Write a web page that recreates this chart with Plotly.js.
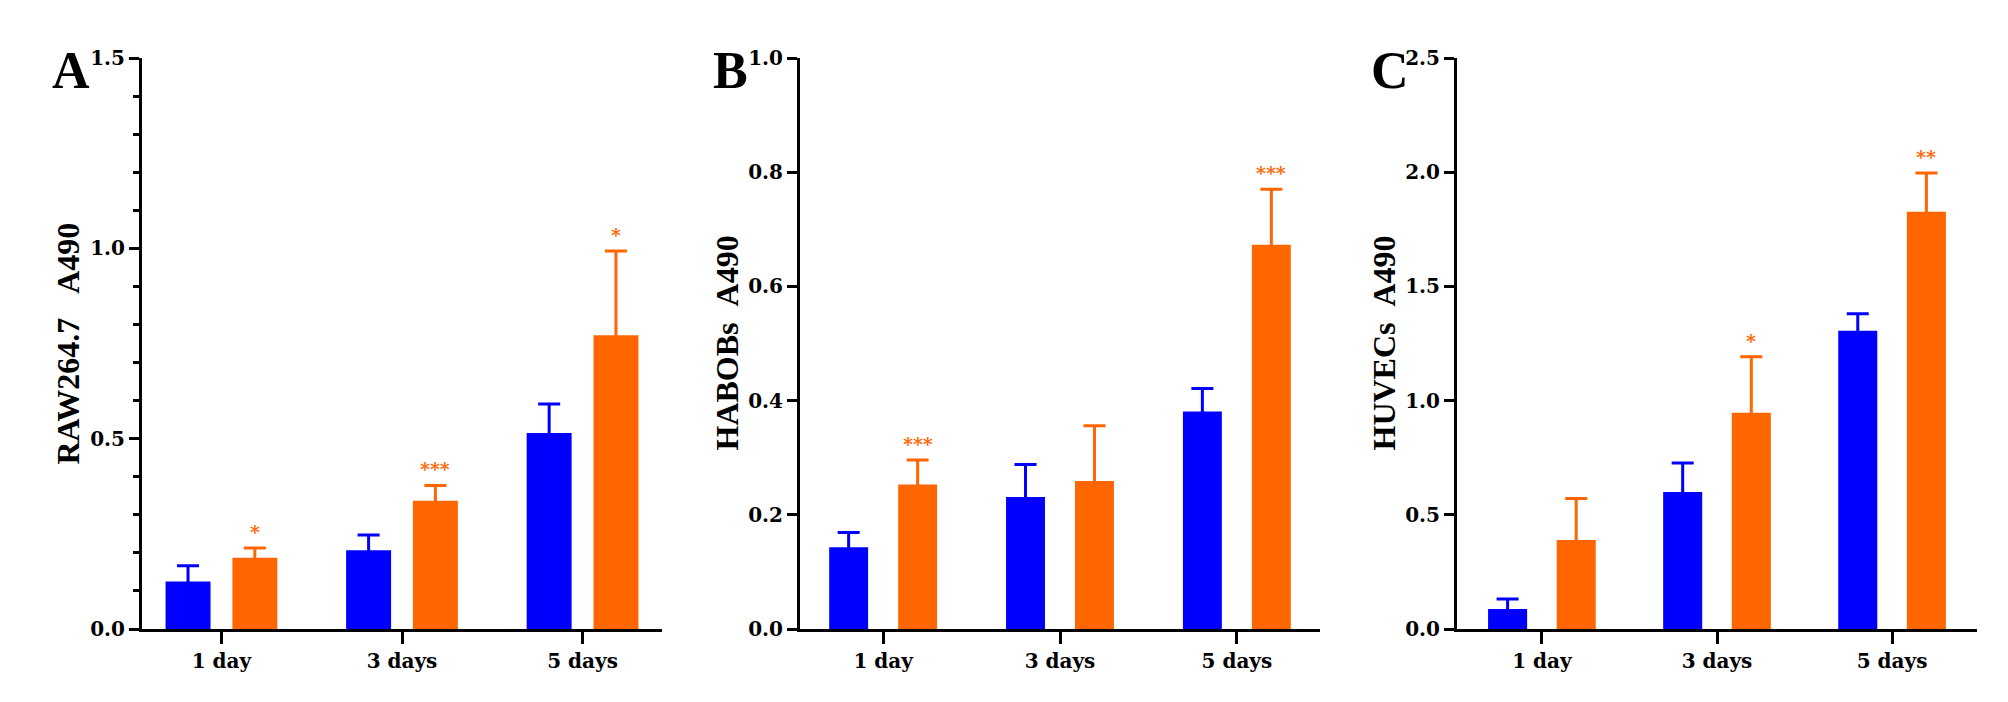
<!DOCTYPE html>
<html><head><meta charset="utf-8">
<script src="https://cdn.plot.ly/plotly-3.0.1.min.js"></script>
<style>html,body{margin:0;padding:0;background:#fff}#chart{width:2008px;height:702px}</style>
</head><body><div id="chart"></div>
<script>
// ---- data ----
const categories = ['1 day', '3 days', '5 days'];

const rawControl    = [0.125, 0.207, 0.515];
const rawControlErr = [0.041, 0.040, 0.076];
const rawTreat      = [0.187, 0.337, 0.772];
const rawTreatErr   = [0.026, 0.040, 0.221];
const rawSig        = ['*', '***', '*'];

const habControl    = [0.143, 0.231, 0.381];
const habControlErr = [0.026, 0.057, 0.040];
const habTreat      = [0.253, 0.259, 0.673];
const habTreatErr   = [0.043, 0.097, 0.097];
const habSig        = ['***', '', '***'];

const huvControl    = [0.088, 0.600, 1.306];
const huvControlErr = [0.043, 0.127, 0.074];
const huvTreat      = [0.390, 0.947, 1.827];
const huvTreatErr   = [0.181, 0.245, 0.169];
const huvSig        = ['', '*', '**'];

const yTitles = ['RAW264.7\u00a0\u00a0\u00a0A490', 'HABOBs\u00a0\u00a0A490', 'HUVECs\u00a0\u00a0A490'];
const letters = ['A', 'B', 'C'];

// ---- layout / style ----
const W = 2008, H = 702;
const BLUE = '#0000FF', ORANGE = '#FF6600';
const TICKFONT = {family: 'DejaVu Serif', size: 20, color: '#000', weight: 'bold'};
const panels = [
  {ctrl: rawControl, ctrlErr: rawControlErr, trt: rawTreat, trtErr: rawTreatErr, sig: rawSig,
   px: [142, 662], top: 58, bot: 629, pad: 0.44, yMax: 1.5, dtick: 0.5, minor: 0.1, w: 0.249, d: 0.185, titleX: 67, letterX: 71},
  {ctrl: habControl, ctrlErr: habControlErr, trt: habTreat, trtErr: habTreatErr, sig: habSig,
   px: [800, 1320], top: 58, bot: 629, pad: 0.47, yMax: 1.0, dtick: 0.2, minor: null, w: 0.22, d: 0.195, titleX: 726, letterX: 730},
  {ctrl: huvControl, ctrlErr: huvControlErr, trt: huvTreat, trtErr: huvTreatErr, sig: huvSig,
   px: [1457, 1977], top: 58, bot: 629, pad: 0.485, yMax: 2.5, dtick: 0.5, minor: null, w: 0.223, d: 0.196, titleX: 1383, letterX: 1390}
];

const idx = categories.map((c, i) => i);
const traces = [];
const layout = {
  width: W, height: H,
  margin: {l: 0, r: 0, t: 0, b: 0},
  paper_bgcolor: '#fff', plot_bgcolor: '#fff',
  showlegend: false, barmode: 'overlay',
  annotations: []
};

panels.forEach((p, k) => {
  const n = k === 0 ? '' : String(k + 1);
  const xa = 'x' + n, ya = 'y' + n;
  // error bars only upward: the lower half runs hidden inside the bar down to the axis
  traces.push({
    type: 'bar', x: idx, y: p.ctrl, xaxis: xa, yaxis: ya,
    width: p.w, offset: -p.d - p.w / 2,
    marker: {color: BLUE, line: {width: 0}},
    error_y: {type: 'data', symmetric: false, array: p.ctrlErr, arrayminus: p.ctrl, color: BLUE, thickness: 3, width: 11}
  });
  traces.push({
    type: 'bar', x: idx, y: p.trt, xaxis: xa, yaxis: ya,
    width: p.w, offset: p.d - p.w / 2,
    marker: {color: ORANGE, line: {width: 0}},
    error_y: {type: 'data', symmetric: false, array: p.trtErr, arrayminus: p.trt, color: ORANGE, thickness: 3, width: 11}
  });
  layout['xaxis' + n] = {
    domain: [p.px[0] / W, p.px[1] / W], anchor: ya,
    range: [-p.pad, categories.length - 1 + p.pad],
    tickvals: idx, ticktext: categories,
    showline: true, linecolor: '#000', linewidth: 3,
    ticks: 'outside', ticklen: 12, tickwidth: 3, tickcolor: '#000',
    showgrid: false, zeroline: false, tickfont: TICKFONT, fixedrange: true
  };
  const yax = {
    domain: [1 - p.bot / H, 1 - p.top / H], anchor: xa,
    range: [0, p.yMax], dtick: p.dtick, tick0: 0, tickformat: '.1f',
    showline: true, linecolor: '#000', linewidth: 3,
    ticks: 'outside', ticklen: 10, tickwidth: 3, tickcolor: '#000',
    showgrid: false, zeroline: false, tickfont: TICKFONT, fixedrange: true
  };
  if (p.minor) yax.minor = {dtick: p.minor, ticks: 'outside', ticklen: 6, tickwidth: 3, tickcolor: '#000', showgrid: false};
  layout['yaxis' + n] = yax;

  // significance stars
  p.sig.forEach((s, i) => {
    if (!s) return;
    layout.annotations.push({
      xref: xa, yref: ya, x: i + p.d, y: p.trt[i] + p.trtErr[i],
      text: s, showarrow: false, xanchor: 'center', yanchor: 'bottom', yshift: 3,
      font: {family: 'DejaVu Serif', size: 19, color: ORANGE, weight: 'bold'}
    });
  });
  // y-axis title
  layout.annotations.push({
    xref: 'paper', yref: 'paper', x: p.titleX / W, y: 1 - ((p.top + p.bot) / 2) / H,
    text: yTitles[k], showarrow: false, textangle: -90, xanchor: 'center', yanchor: 'middle',
    font: {family: 'Liberation Serif', size: 32, color: '#000', weight: 'bold'}
  });
  // panel letter
  layout.annotations.push({
    xref: 'paper', yref: 'paper', x: p.letterX / W, y: 1 - 70 / H,
    text: letters[k], showarrow: false, xanchor: 'center', yanchor: 'middle',
    font: {family: 'Liberation Serif', size: 52, color: '#000', weight: 'bold'}
  });
});

Plotly.newPlot('chart', traces, layout, {staticPlot: true, displayModeBar: false});
</script>
</body></html>
